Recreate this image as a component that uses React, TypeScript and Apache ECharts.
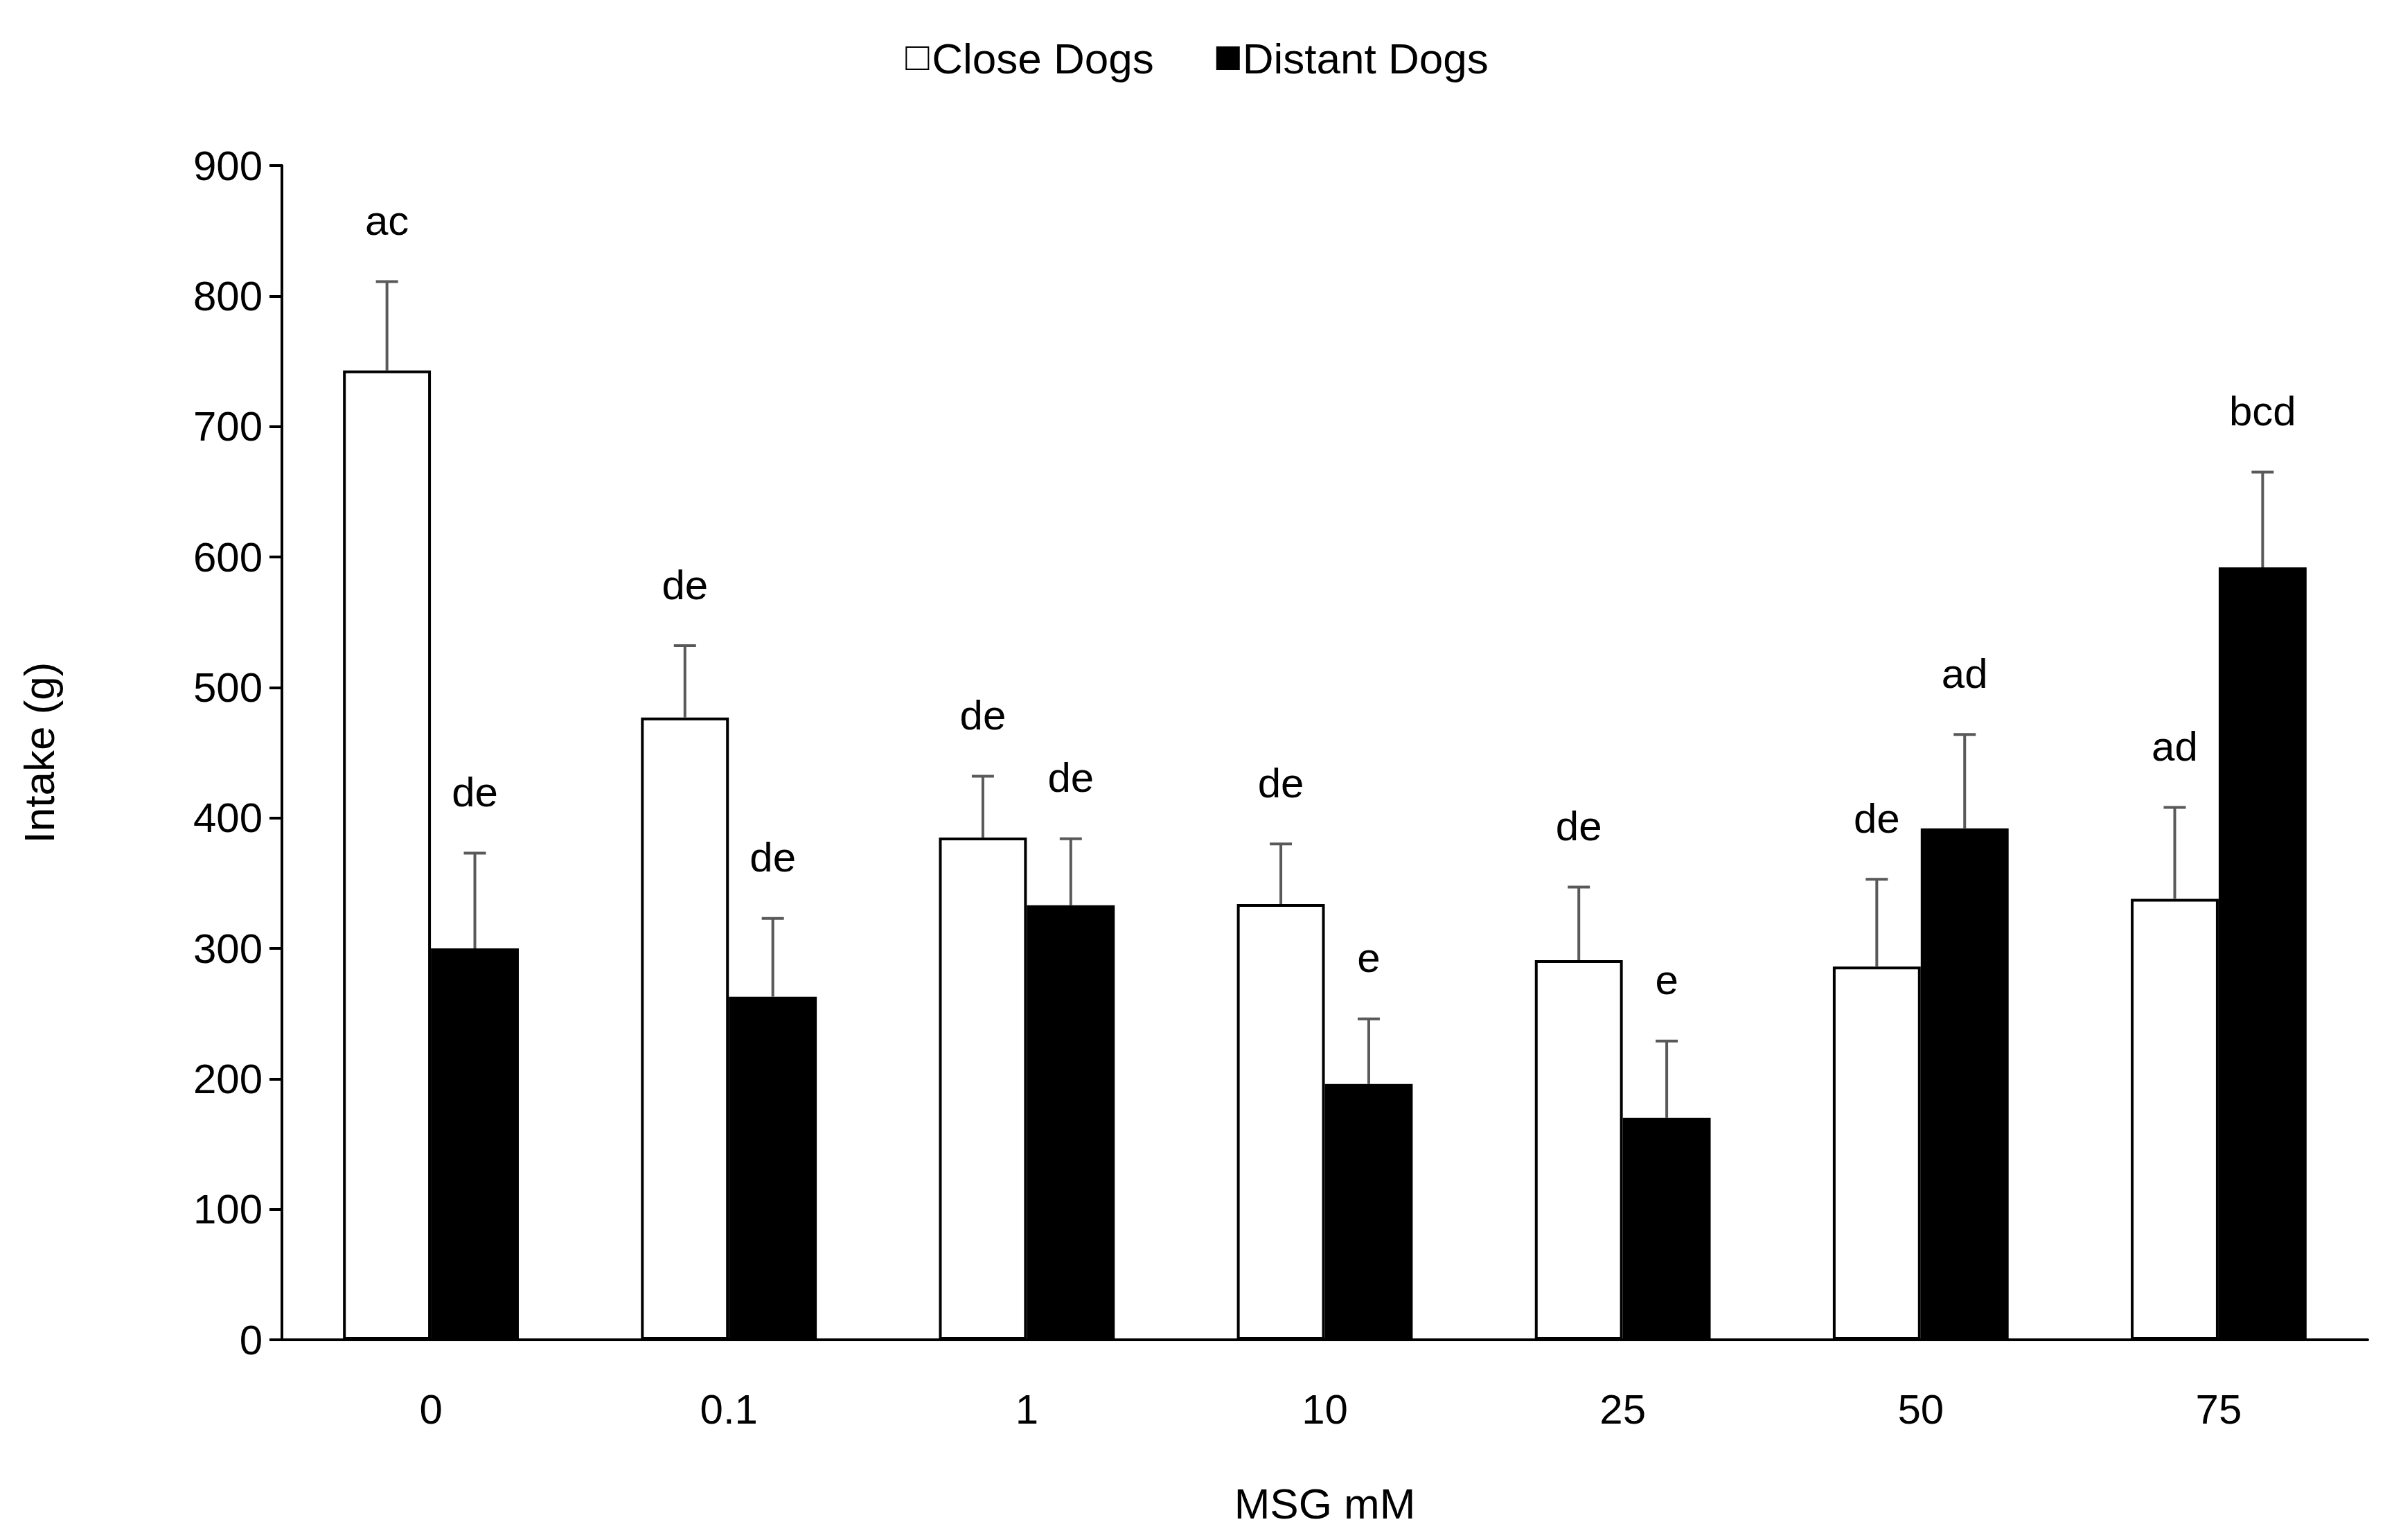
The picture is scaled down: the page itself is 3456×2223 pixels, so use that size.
import { useEffect, useRef } from 'react';
import * as echarts from 'echarts';

const categories = ['0', '0.1', '1', '10', '25', '50', '75'];
const closeValues = [743, 477, 385, 334, 291, 286, 338];
const closeErrTop = [811, 532, 432, 380, 347, 353, 408];
const closeLetters = ['ac', 'de', 'de', 'de', 'de', 'de', 'ad'];
const distantValues = [300, 263, 333, 196, 170, 392, 592];
const distantErrTop = [373, 323, 384, 246, 229, 464, 665];
const distantLetters = ['de', 'de', 'de', 'e', 'e', 'ad', 'bcd'];

const FONT = '"Liberation Sans", Arial, sans-serif';
const CAT_GAP = 0.41;

function errSeries(name: string, values: number[], tops: number[], letters: string[], side: number) {
  return {
    type: 'custom',
    name: name + ' err',
    data: values.map((v, i) => [i, v, tops[i]]),
    z: 10,
    renderItem: (params: any, api: any) => {
      const i = api.value(0);
      const band = api.size([1, 0])[0];
      const x = api.coord([i, 0])[0] + side * band * (1 - CAT_GAP) / 4;
      const yv = api.coord([i, api.value(1)])[1];
      const yt = api.coord([i, api.value(2)])[1];
      const st = { stroke: '#595959', lineWidth: 4 };
      return {
        type: 'group',
        children: [
          { type: 'line', shape: { x1: x, y1: yv, x2: x, y2: yt }, style: st },
          { type: 'line', shape: { x1: x - 16, y1: yt, x2: x + 16, y2: yt }, style: st },
          {
            type: 'text',
            x,
            y: yt - 88,
            style: {
              text: letters[i],
              fill: '#000',
              font: `60px ${FONT}`,
              align: 'center',
              verticalAlign: 'middle',
            },
          },
        ],
      };
    },
  };
}

export default function App() {
  const ref = useRef<HTMLDivElement>(null);

  useEffect(() => {
    if (!ref.current) return;
    const chart = echarts.init(ref.current, null, { renderer: 'svg' });
    chart.setOption({
      animation: false,
      backgroundColor: '#fff',
      textStyle: { fontFamily: FONT },
      legend: {
        data: ['Close Dogs', 'Distant Dogs'],
        top: 40,
        left: 'center',
        icon: 'rect',
        itemWidth: 32,
        itemHeight: 32,
        itemGap: 90,
        textStyle: { fontSize: 62, color: '#000', fontFamily: FONT },
      },
      grid: { left: 399, right: 30, top: 231, bottom: 281 },
      xAxis: {
        type: 'category',
        data: categories,
        name: 'MSG mM',
        nameLocation: 'middle',
        nameGap: 205,
        nameTextStyle: { fontSize: 62, color: '#000' },
        axisLine: { lineStyle: { color: '#000', width: 4 } },
        axisTick: { show: false },
        axisLabel: { fontSize: 60, color: '#000', margin: 70 },
      },
      yAxis: {
        type: 'value',
        min: 0,
        max: 900,
        interval: 100,
        name: 'Intake (g)',
        nameLocation: 'middle',
        nameGap: 320,
        nameTextStyle: { fontSize: 62, color: '#000' },
        axisLine: { show: true, lineStyle: { color: '#000', width: 4 } },
        axisTick: { show: true, length: 18, lineStyle: { color: '#000', width: 4 } },
        axisLabel: { fontSize: 60, color: '#000', margin: 28 },
        splitLine: { show: false },
      },
      series: [
        {
          name: 'Close Dogs',
          type: 'bar',
          data: closeValues,
          barGap: '0%',
          barCategoryGap: '41%',
          itemStyle: { color: '#fff', borderColor: '#000', borderWidth: 4 },
        },
        {
          name: 'Distant Dogs',
          type: 'bar',
          data: distantValues,
          itemStyle: { color: '#000', borderColor: '#000', borderWidth: 4 },
        },
        errSeries('Close Dogs', closeValues, closeErrTop, closeLetters, -1),
        errSeries('Distant Dogs', distantValues, distantErrTop, distantLetters, 1),
      ],
    });
    return () => chart.dispose();
  }, []);

  return <div ref={ref} style={{ width: 3440, height: 2207 }} />;
}
